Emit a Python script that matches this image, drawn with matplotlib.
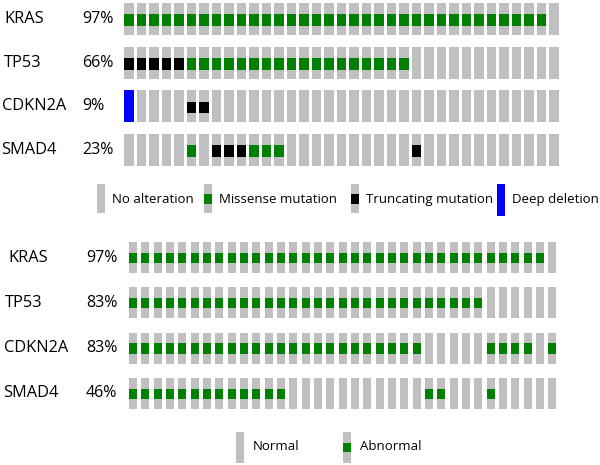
import matplotlib
matplotlib.use('Agg')
import matplotlib.pyplot as plt

# N = no alteration, M = missense, T = truncating, D = deep deletion, A = abnormal
GENES = ['KRAS', 'TP53', 'CDKN2A', 'SMAD4']

TOP_PCT = ['97%', '66%', '9%', '23%']
TOP_ROWS = [
    'MMMMMMMMMMMMMMMMMMMMMMMMMMMMMMMMMMN',
    'TTTTTMMMMMMMMMMMMMMMMMMNNNNNNNNNNNN',
    'DNNNNTTNNNNNNNNNNNNNNNNNNNNNNNNNNNN',
    'NNNNNMNTTTMMMNNNNNNNNNNTNNNNNNNNNNN',
]

BOTTOM_PCT = ['97%', '83%', '83%', '46%']
BOTTOM_ROWS = [
    'AAAAAAAAAAAAAAAAAAAAAAAAAAAAAAAAAAN',
    'AAAAAAAAAAAAAAAAAAAAAAAAAAAAANNNNNN',
    'AAAAAAAAAAAAAAAAAAAAAAAANNNNNAAAANA',
    'AAAAAAAAAAAAANNNNNNNNNNNAANNNANNNNN',
]

TOP_LEGEND = ['No alteration', 'Missense mutation', 'Truncating mutation', 'Deep deletion']
BOTTOM_LEGEND = ['Normal', 'Abnormal']

GRAY = '#c0c0c0'
GREEN = '#008000'
COLORS = {'M': GREEN, 'A': GREEN, 'T': '#000000', 'D': '#0000ff'}

plt.rcParams['font.family'] = ['Open Sans', 'DejaVu Sans']

fig = plt.figure(figsize=(6, 4.65), dpi=100)
ax = fig.add_axes([0, 0, 1, 1])
ax.set_xlim(0, 600)
ax.set_ylim(465, 0)
ax.axis('off')


def cell(x, top, w, h, code, band=(0.34, 0.72)):
    '''one oncoprint cell: gray background plus the alteration mark'''
    ax.bar(x + w / 2, h, w, bottom=top, color=GRAY, linewidth=0)
    if code == 'D':
        ax.bar(x + w / 2, h, w, bottom=top, color=COLORS['D'], linewidth=0)
    elif code in COLORS:
        ax.bar(x + w / 2, h * (band[1] - band[0]), w, bottom=top + h * band[0],
               color=COLORS[code], linewidth=0)


def panel(rows, pcts, x0, pitch, w, y0, rpitch, h, lab_x, pct_x, band):
    for i, (gene, pct, row) in enumerate(zip(GENES, pcts, rows)):
        top = y0 + i * rpitch
        for j, code in enumerate(row):
            cell(x0 + j * pitch, top, w, h, code, band)
        ax.text(lab_x[i], top + h / 2, gene, fontsize=11.8, va='center', ha='left')
        ax.text(pct_x, top + h / 2, pct, fontsize=11.5, va='center', ha='left')


panel(TOP_ROWS, TOP_PCT, 124, 12.5, 9.5, 3, 43.7, 32, [4, 4, 2, 1], 82, (0.35, 0.72))
panel(BOTTOM_ROWS, BOTTOM_PCT, 129, 12.33, 8, 242, 45.3, 31, [8, 5, 4, 3], 86, (0.35, 0.68))

# top legend
leg_x = [97, 204, 351, 497]
leg_codes = ['N', 'M', 'T', 'D']
for lx, code, label in zip(leg_x, leg_codes, TOP_LEGEND):
    if code == 'D':
        cell(lx, 184, 8, 32, code)
    else:
        cell(lx, 184, 8, 29, code, (0.35, 0.68))
    ax.text(lx + 15, 199, label, fontsize=9.5, va='center', ha='left')

# bottom legend
for lx, code, label in zip([236, 343], ['N', 'A'], BOTTOM_LEGEND):
    cell(lx, 432, 7.5, 31, code, (0.35, 0.65))
    ax.text(lx + 17, 446, label, fontsize=9.5, va='center', ha='left')

fig.savefig('out.png', dpi=100)
